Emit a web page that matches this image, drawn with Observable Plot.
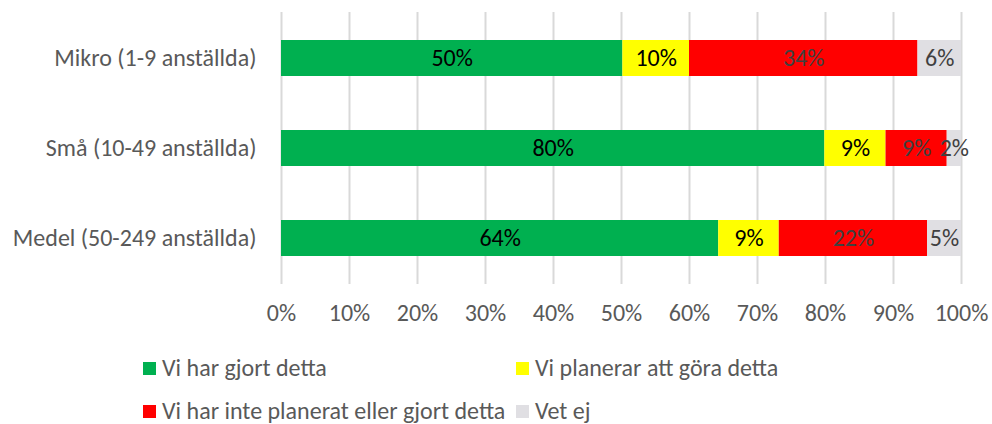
<!DOCTYPE html>
<html>
<head>
<meta charset="utf-8">
<script src="https://cdn.jsdelivr.net/npm/d3@7"></script>
<script src="https://cdn.jsdelivr.net/npm/@observablehq/plot@0.6"></script>
<style>
  body { margin: 0; background: #fff; overflow: hidden; }
  #wrap { position: relative; width: 992px; height: 424px; font-family: Carlito, Lato, sans-serif; }
  .leg { position: absolute; display: flex; align-items: center; font-size: 24px; line-height: 24px; color: #595959; white-space: nowrap; }
  .sw { width: 13px; height: 13px; margin-right: 6px; }
</style>
</head>
<body>
<div id="wrap"></div>
<script>
const categories = ["Mikro (1-9 anställda)", "Små (10-49 anställda)", "Medel (50-249 anställda)"];
const seriesNames = ["Vi har gjort detta", "Vi planerar att göra detta", "Vi har inte planerat eller gjort detta", "Vet ej"];
const seriesColors = ["#00b050", "#ffff00", "#ff0000", "#e0dfe3"];
const labelColors = ["#000000", "#000000", "#404040", "#404040"];
const gjort =     [50.2, 79.9, 64.3];
const planerar =  [9.8, 9.0, 8.9];
const inte =      [33.6, 9.0, 21.8];
const vetEj =     [6.4, 2.1, 5.0];
const xTicks = [0, 10, 20, 30, 40, 50, 60, 70, 80, 90, 100];

const seriesValues = [gjort, planerar, inte, vetEj];
const rows = [];
categories.forEach((c, i) => {
  seriesNames.forEach((s, j) => {
    rows.push({cat: c, series: s, value: seriesValues[j][i], lc: labelColors[j]});
  });
});

const font = 'Carlito, Lato, sans-serif';
const chart = Plot.plot({
  width: 992,
  height: 340,
  marginLeft: 281,
  marginRight: 31,
  marginTop: 12,
  marginBottom: 56,
  style: {fontFamily: font, fontSize: "24px", color: "#595959", background: "#fff"},
  x: {domain: [0, 100], ticks: xTicks, tickFormat: d => d + "%", label: null, tickSize: 0, tickPadding: 19},
  y: {domain: categories, label: null, tickSize: 0, tickPadding: 25, paddingInner: 0.6, paddingOuter: 0.3},
  color: {domain: seriesNames, range: seriesColors},
  marks: [
    Plot.gridX(xTicks, {stroke: "#d9d9d9", strokeOpacity: 1, strokeWidth: 2}),
    Plot.barX(rows, Plot.stackX({x: "value", y: "cat", z: "series", fill: "series"})),
    Plot.text(rows, Plot.stackX({x: "value", y: "cat", z: "series", text: d => Math.round(d.value) + "%", fill: "lc", fontSize: 24})),
    Plot.axisX({ticks: xTicks, tickFormat: d => d + "%", tickSize: 0, tickPadding: 19, fill: "#595959", label: null, fontSize: 24}),
    Plot.axisY({tickSize: 0, tickPadding: 25, fill: "#595959", label: null, fontSize: 24})
  ]
});
const wrap = document.getElementById("wrap");
wrap.appendChild(chart);

const legPos = [[143, 368], [516, 368], [143, 411], [516, 411]];
seriesNames.forEach((s, j) => {
  const d = document.createElement("div");
  d.className = "leg";
  d.style.left = legPos[j][0] + "px";
  d.style.top = (legPos[j][1] - 12) + "px";
  d.style.height = "24px";
  d.innerHTML = `<span class="sw" style="background:${seriesColors[j]}"></span><span>${s}</span>`;
  wrap.appendChild(d);
});
</script>
</body>
</html>
